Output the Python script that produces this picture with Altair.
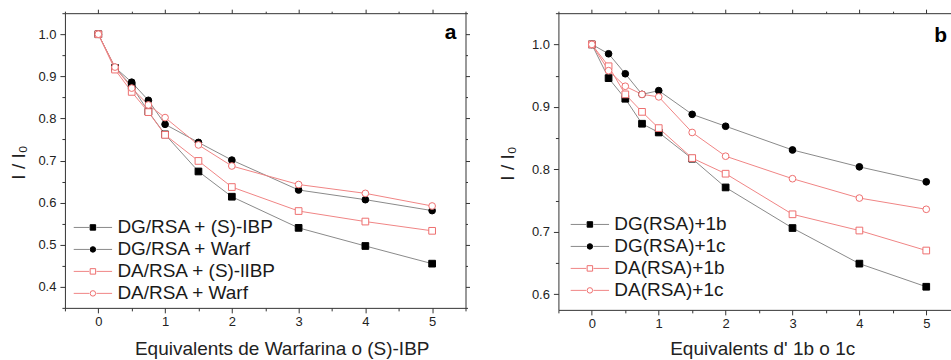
import altair as alt
import pandas as pd

FONT = "Liberation Sans"

# ---------------- data ----------------
x_vals = [0, 0.25, 0.5, 0.75, 1, 1.5, 2, 3, 4, 5]

a_names = ["DG/RSA + (S)-IBP", "DG/RSA + Warf", "DA/RSA + (S)-lIBP", "DA/RSA + Warf"]
a_dg_ibp = [1.0, 0.920, 0.877, 0.816, 0.762, 0.674, 0.614, 0.540, 0.497, 0.455]
a_dg_warf = [1.0, 0.921, 0.886, 0.843, 0.786, 0.743, 0.701, 0.630, 0.607, 0.581]
a_da_ibp = [1.0, 0.916, 0.863, 0.815, 0.761, 0.699, 0.637, 0.580, 0.555, 0.533]
a_da_warf = [1.0, 0.922, 0.872, 0.832, 0.802, 0.737, 0.687, 0.643, 0.622, 0.592]

b_names = ["DG(RSA)+1b", "DG(RSA)+1c", "DA(RSA)+1b", "DA(RSA)+1c"]
b_dg_1b = [1.0, 0.946, 0.913, 0.873, 0.859, 0.817, 0.771, 0.706, 0.649, 0.612]
b_dg_1c = [1.0, 0.985, 0.953, 0.920, 0.926, 0.888, 0.869, 0.831, 0.804, 0.780]
b_da_1b = [1.0, 0.965, 0.920, 0.892, 0.866, 0.818, 0.793, 0.728, 0.702, 0.670]
b_da_1c = [1.0, 0.958, 0.933, 0.920, 0.916, 0.859, 0.821, 0.785, 0.754, 0.736]

x_ticks_a = [-0.5, 0, 0.5, 1, 1.5, 2, 2.5, 3, 3.5, 4, 4.5, 5, 5.5]
x_ticks_b = [-0.5, 0, 0.5, 1, 1.5, 2, 2.5, 3, 3.5, 4, 4.5, 5]
y_ticks_a = [0.35, 0.4, 0.45, 0.5, 0.55, 0.6, 0.65, 0.7, 0.75, 0.8, 0.85, 0.9, 0.95, 1.0, 1.05]
y_ticks_b = [0.6, 0.65, 0.7, 0.75, 0.8, 0.85, 0.9, 0.95, 1.0, 1.05]

GRAY_LINE = "#8a8a8a"
RED_LINE = "#f08585"
RED_MARK = "#ee6f6f"
line_colors = [GRAY_LINE, GRAY_LINE, RED_LINE, RED_LINE]
mark_shapes = ["square", "circle", "square", "circle"]
mark_fills = ["black", "black", "white", "white"]
mark_strokes = ["black", "black", RED_MARK, RED_MARK]

# legend line segment (custom symbol path, unit = sqrt(size)/2 px)
LEG_LINE = "M-6.4,0H-1.2M1.2,0H6.4"


def make_df(names, series):
    rows = []
    for n, ys in zip(names, series):
        for xv, yv in zip(x_vals, ys):
            rows.append({"x": xv, "y": yv, "s": n, "sp": n + " ·"})
    return pd.DataFrame(rows)


MAJOR_X = "abs(datum.value - round(datum.value)) < 0.001"
MAJOR_Y = "abs(datum.value*10 - round(datum.value*10)) < 0.001"


def panel(df, names, xdom, ydom, xticks, yticks, w, h, xtitle, xtitle_x, xtitle_y,
          ytitle_x, ytitle_y, leg_x, leg_y, leg_off, letter, letter_y, letter_dx, right_axis):
    pnames = [n + " ·" for n in names]
    xscale = alt.Scale(domain=xdom, nice=False, zero=False)
    yscale = alt.Scale(domain=ydom, nice=False, zero=False)
    xaxis = alt.Axis(
        values=xticks,
        labelExpr=f"{MAJOR_X} ? format(datum.value, 'd') : ''",
        tickSize={"condition": {"test": MAJOR_X, "value": 5}, "value": 3},
        labelOverlap=False, labelFlush=False, labelPadding=3,
        title=xtitle, titleX=xtitle_x, titleY=xtitle_y, titleAlign="center",
        titleBaseline="alphabetic", grid=False,
    )
    yaxis = alt.Axis(
        values=yticks,
        labelExpr=f"{MAJOR_Y} ? format(datum.value, '.1f') : ''",
        tickSize={"condition": {"test": MAJOR_Y, "value": 5}, "value": 3},
        labelOverlap=False, labelFlush=False, labelPadding=4,
        title="I / I₀", titleX=ytitle_x, titleY=ytitle_y, titleAngle=270,
        titleAlign="center", titleBaseline="alphabetic", grid=False,
    )
    line_leg = alt.Legend(
        orient="none", legendX=leg_x, legendY=leg_y, title=None,
        symbolType=LEG_LINE, symbolSize=36, symbolStrokeWidth=1,
        labelFontSize=19, labelFont=FONT, labelColor="#1a1a1a",
        labelOffset=leg_off, rowPadding=2, padding=0, labelLimit=400,
    )
    pt_leg = alt.Legend(
        orient="none", legendX=leg_x, legendY=leg_y, title=None,
        symbolSize=30, symbolStrokeWidth=1,
        labelFontSize=19, labelFont=FONT, labelOpacity=0,
        labelOffset=leg_off, rowPadding=2, padding=0, labelLimit=400,
    )
    lines = alt.Chart(df).mark_line(strokeWidth=1).encode(
        x=alt.X("x:Q", scale=xscale, axis=xaxis),
        y=alt.Y("y:Q", scale=yscale, axis=yaxis),
        color=alt.Color("s:N", scale=alt.Scale(domain=names, range=line_colors),
                        legend=line_leg, sort=names),
    )
    pts = alt.Chart(df).mark_point(filled=True, size=45, strokeWidth=1, opacity=1).encode(
        x=alt.X("x:Q", scale=xscale, axis=None),
        y=alt.Y("y:Q", scale=yscale, axis=None),
        shape=alt.Shape("sp:N", scale=alt.Scale(domain=pnames, range=mark_shapes), legend=pt_leg, sort=pnames),
        fill=alt.Fill("sp:N", scale=alt.Scale(domain=pnames, range=mark_fills), legend=pt_leg, sort=pnames),
        stroke=alt.Stroke("sp:N", scale=alt.Scale(domain=pnames, range=mark_strokes), legend=pt_leg, sort=pnames),
    )
    top_axis = alt.Axis(
        orient="top", values=xticks, labels=False, title=None, grid=False,
        tickSize={"condition": {"test": MAJOR_X, "value": 4}, "value": 2},
    )
    if right_axis:
        ry = alt.Y("y:Q", scale=yscale, axis=alt.Axis(
            orient="right", values=yticks, labels=False, title=None, grid=False,
            tickSize={"condition": {"test": MAJOR_Y, "value": 4}, "value": 2}))
    else:
        ry = alt.Y("y:Q", scale=yscale, axis=None)
    frame = alt.Chart(df).mark_point(opacity=0).encode(
        x=alt.X("x:Q", scale=xscale, axis=top_axis),
        y=ry,
    )
    letter_df = pd.DataFrame({"t": [letter]})
    lab = alt.Chart(letter_df).mark_text(
        align="right", baseline="alphabetic", fontSize=21, fontWeight="bold",
        font=FONT, color="black",
    ).encode(x=alt.value(w + letter_dx), y=alt.value(letter_y), text="t:N")
    return alt.layer(lines, pts, frame, lab).resolve_axis(
        x="independent", y="independent"
    ).properties(width=w, height=h)


df_a = make_df(a_names, [a_dg_ibp, a_dg_warf, a_da_ibp, a_da_warf])
df_b = make_df(b_names, [b_dg_1b, b_dg_1c, b_da_1b, b_da_1c])

pa = panel(df_a, a_names, [-0.5, 5.5], [0.35, 1.05], x_ticks_a, y_ticks_a, 401, 295,
           "Equivalents de Warfarina o (S)-IBP", 217, 47, -40, 149, 18.5, 205, 15,
           "a", 25.5, -9, True)
pb = panel(df_b, b_names, [-0.5, 5.37], [0.575, 1.05], x_ticks_b, y_ticks_b, 393, 297,
           "Equivalents d' 1b o 1c", 204, 45, -44.5, 150, 22, 202, 15,
           "b", 28.5, -4, False)

chart = alt.hconcat(pa, pb, spacing=93, bounds="flush").resolve_scale(
    x="independent", y="independent", color="independent",
    shape="independent", fill="independent", stroke="independent",
).resolve_legend(
    color="independent", shape="independent", fill="independent", stroke="independent",
).properties(
    padding={"left": 10, "top": 7, "right": 0, "bottom": 0},
    background="white",
).configure_view(stroke=None).configure_axis(
    labelFont=FONT, labelFontSize=13, labelColor="#222222",
    titleFont=FONT, titleFontSize=19, titleFontWeight="normal", titleColor="#222222",
    domainColor="#333333", tickColor="#333333", domainWidth=1, tickWidth=1,
)

chart.save("out.html", embed_options={"renderer": "svg", "actions": False})
